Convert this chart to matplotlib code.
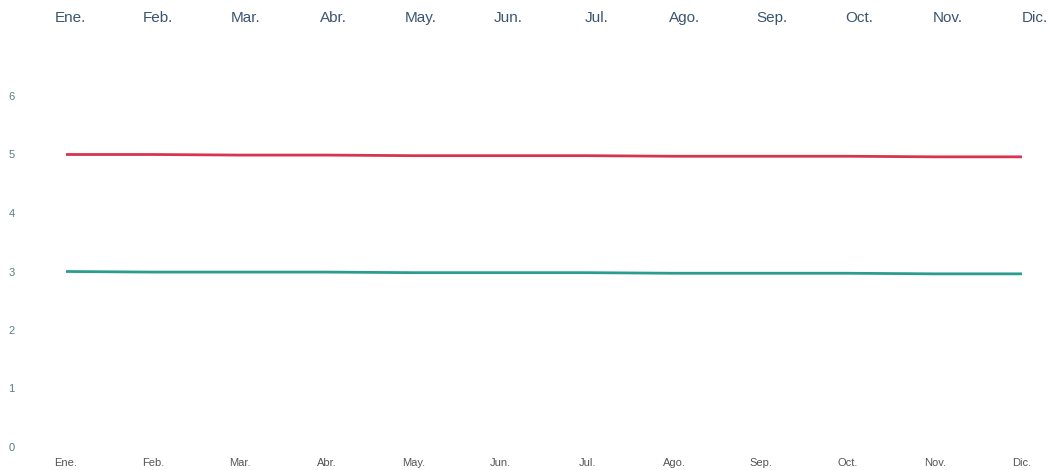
import matplotlib
matplotlib.use("Agg")
import matplotlib.pyplot as plt

plt.rcParams["font.family"] = ["Liberation Sans", "DejaVu Sans"]

months = ["Ene.", "Feb.", "Mar.", "Abr.", "May.", "Jun.", "Jul.", "Ago.", "Sep.", "Oct.", "Nov.", "Dic."]
serie_roja = [5.00, 5.00, 4.99, 4.99, 4.98, 4.98, 4.98, 4.97, 4.97, 4.97, 4.96, 4.96]
serie_verde = [3.00, 2.99, 2.99, 2.99, 2.98, 2.98, 2.98, 2.97, 2.97, 2.97, 2.96, 2.96]
yticks = [0, 1, 2, 3, 4, 5, 6]

W, H = 1051, 470
fig = plt.figure(figsize=(W / 100, H / 100), dpi=100)
fig.patch.set_facecolor("white")

# main axes: x 66..1022 px, y(0)=447 px, y(6)=96 px
left, right = 66, 1022
bottom_px, top_px = 447, 96
ax = fig.add_axes([left / W, 1 - bottom_px / H, (right - left) / W, (bottom_px - top_px) / H])
x = list(range(len(months)))
ax.plot(x, serie_roja, color="#d8344f", lw=2.0, solid_capstyle="butt")
ax.plot(x, serie_verde, color="#2a9d8f", lw=2.0, solid_capstyle="butt")
ax.set_xlim(0, 11)
ax.set_ylim(0, 6)
ax.set_xticks(x)
ax.set_xticklabels(months, fontsize=8, color="#555555")
ax.set_yticks(yticks)
ax.set_yticklabels([str(v) for v in yticks], fontsize=8, color="#5b7c82")
ax.tick_params(axis="x", length=0, pad=8)
ax.tick_params(axis="y", length=0, pad=37)
for ax_s in ax.spines.values():
    ax_s.set_visible(False)
ax.grid(False)

# top month axis: labels span 70..1035 px
tl, tr = 70, 1035
ax2 = fig.add_axes([tl / W, 1 - 31 / H, (tr - tl) / W, 0.001])
ax2.set_xlim(0, 11)
ax2.set_xticks(x)
ax2.set_xticklabels(months, fontsize=11, color="#3a5570")
ax2.xaxis.tick_top()
ax2.tick_params(axis="x", length=0, pad=4)
ax2.set_yticks([])
for s in ax2.spines.values():
    s.set_visible(False)
ax2.patch.set_alpha(0)

fig.savefig("out.png", dpi=100, facecolor="white")
